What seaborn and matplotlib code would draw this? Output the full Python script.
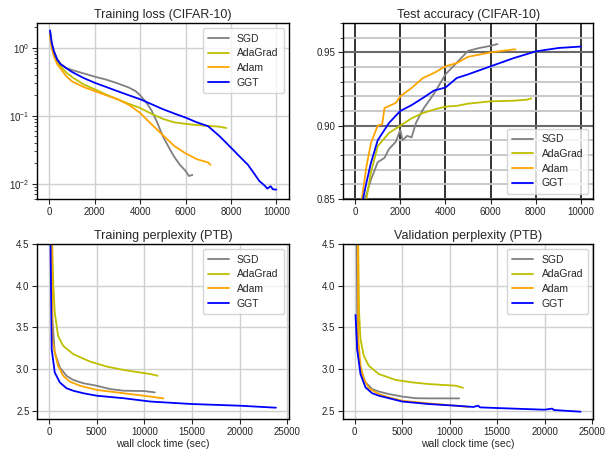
import numpy as np
import pandas as pd
import matplotlib
matplotlib.use("Agg")
import matplotlib.pyplot as plt
import seaborn as sns
from matplotlib.ticker import MultipleLocator, FormatStrFormatter

# ---- data ----
optimizers = ["SGD", "AdaGrad", "Adam", "GGT"]
colors = {"SGD": "gray", "AdaGrad": "#bfbf00", "Adam": "orange", "GGT": "blue"}

# Training loss (CIFAR-10)
loss_sgd_x = [30, 100, 200, 350, 500, 750, 1000, 1500, 2000, 2500, 3000, 3500, 3800, 4000, 4250,
              4500, 4750, 5000, 5250, 5500, 5750, 6000, 6150, 6300]
loss_sgd_y = [1.75, 1.2, 0.9, 0.68, 0.58, 0.5, 0.47, 0.42, 0.375, 0.34, 0.30, 0.26, 0.23, 0.2, 0.16,
              0.12, 0.08, 0.05, 0.035, 0.025, 0.019, 0.0155, 0.013, 0.0135]
loss_ada_x = [30, 100, 200, 350, 500, 750, 1000, 1500, 2000, 2500, 3000, 3500, 4000, 4500, 5000,
              5500, 6000, 6500, 7000, 7500, 7800]
loss_ada_y = [1.6, 1.1, 0.82, 0.62, 0.53, 0.43, 0.37, 0.29, 0.245, 0.205, 0.175, 0.15, 0.13, 0.107, 0.09,
              0.08, 0.076, 0.073, 0.071, 0.069, 0.066]
loss_adam_x = [30, 100, 200, 350, 500, 750, 1000, 1500, 2000, 2500, 3000, 3500, 4000, 4500, 5000,
               5500, 6000, 6500, 7000, 7100]
loss_adam_y = [1.5, 1.0, 0.75, 0.57, 0.49, 0.38, 0.32, 0.265, 0.23, 0.2, 0.175, 0.145, 0.11, 0.075, 0.052,
               0.036, 0.028, 0.023, 0.0205, 0.019]
loss_ggt_x = [30, 100, 200, 350, 500, 750, 1000, 1500, 2000, 2500, 3000, 3500, 4000, 4500, 5000, 5500,
              6000, 6500, 7000, 7500, 8000, 8500, 8750, 9000, 9250, 9500, 9600, 9750, 9850, 10000]
loss_ggt_y = [1.8, 1.2, 0.88, 0.66, 0.57, 0.5, 0.44, 0.36, 0.305, 0.265, 0.23, 0.2, 0.175, 0.148, 0.125, 0.108,
              0.094, 0.08, 0.07, 0.05, 0.034, 0.023, 0.019, 0.0145, 0.011, 0.0093, 0.0085, 0.0092, 0.0083, 0.0082]

# Test accuracy (CIFAR-10)
acc_sgd_x = [440, 700, 1000, 1300, 1500, 1800, 2000, 2100, 2300, 2500, 2700, 3000, 3500, 4000, 4500,
             5000, 5500, 6000, 6300]
acc_sgd_y = [0.85, 0.863, 0.875, 0.878, 0.884, 0.889, 0.897, 0.890, 0.893, 0.892, 0.902, 0.911, 0.922,
             0.935, 0.943, 0.951, 0.953, 0.9545, 0.9557]
acc_ada_x = [500, 700, 1000, 1500, 2000, 2500, 3000, 3500, 4000, 4500, 5000, 6000, 7000, 7600, 7800]
acc_ada_y = [0.85, 0.868, 0.886, 0.895, 0.900, 0.905, 0.9086, 0.911, 0.913, 0.9135, 0.915, 0.9166, 0.917,
             0.9177, 0.9186]
acc_adam_x = [300, 500, 700, 1000, 1200, 1300, 1800, 2000, 2500, 3000, 3500, 4000, 4500, 5000, 6000,
              7000, 7100]
acc_adam_y = [0.85, 0.872, 0.888, 0.900, 0.901, 0.912, 0.9155, 0.920, 0.9257, 0.9325, 0.936, 0.9405,
              0.9427, 0.947, 0.950, 0.952, 0.952]
acc_ggt_x = [350, 500, 700, 1000, 1500, 2000, 2500, 3000, 3500, 4000, 4500, 5000, 6000, 7000, 8000,
             9000, 10000]
acc_ggt_y = [0.85, 0.861, 0.8745, 0.890, 0.9018, 0.910, 0.914, 0.9189, 0.924, 0.926, 0.9325, 0.935,
             0.9405, 0.946, 0.9507, 0.953, 0.954]

# Training perplexity (PTB)
tp_sgd_x = [250, 350, 600, 1130, 1830, 2535, 3590, 5000, 6400, 7800, 10000, 11100]
tp_sgd_y = [4.6, 3.6, 3.2, 3.02, 2.92, 2.87, 2.83, 2.80, 2.76, 2.74, 2.736, 2.72]
tp_ada_x = [320, 450, 600, 950, 1480, 2535, 4300, 6060, 7800, 10630, 11400]
tp_ada_y = [4.6, 4.0, 3.68, 3.4, 3.28, 3.18, 3.09, 3.03, 2.99, 2.94, 2.92]
tp_adam_x = [300, 350, 600, 950, 1480, 2180, 3240, 5000, 7800, 10630, 12000]
tp_adam_y = [4.6, 3.36, 3.2, 3.04, 2.92, 2.85, 2.80, 2.75, 2.71, 2.67, 2.648]
tp_ggt_x = [150, 280, 600, 1130, 1830, 2535, 3590, 5000, 7800, 10630, 15000, 20000, 23800]
tp_ggt_y = [4.6, 3.24, 2.96, 2.84, 2.77, 2.74, 2.71, 2.68, 2.65, 2.61, 2.58, 2.56, 2.536]

# Validation perplexity (PTB)
vp_sgd_x = [200, 280, 600, 1130, 1830, 2535, 3590, 5000, 6400, 7800, 11000]
vp_sgd_y = [4.6, 3.24, 3.0, 2.84, 2.76, 2.73, 2.70, 2.67, 2.65, 2.648, 2.648]
vp_ada_x = [350, 450, 600, 950, 1480, 2535, 4300, 6060, 7800, 10630, 11400]
vp_ada_y = [4.6, 3.7, 3.36, 3.16, 3.04, 2.94, 2.87, 2.84, 2.82, 2.8, 2.775]
vp_adam_x = [320, 370, 600, 950, 1480, 2535, 3590, 5000, 7800, 10630, 12000]
vp_adam_y = [4.6, 3.36, 3.04, 2.88, 2.77, 2.70, 2.66, 2.62, 2.588, 2.56, 2.545]
vp_ggt_x = [80, 250, 600, 1130, 1830, 2535, 3590, 5000, 7800, 10630, 12500, 13000, 13200, 15000,
            20000, 20800, 21000, 23800]
vp_ggt_y = [3.65, 3.24, 2.94, 2.78, 2.71, 2.68, 2.65, 2.61, 2.58, 2.56, 2.545, 2.56, 2.54, 2.532,
            2.512, 2.525, 2.508, 2.488]


def frame(xs, ys):
    parts = []
    for name, x, y in zip(optimizers, xs, ys):
        parts.append(pd.DataFrame({"x": x, "y": y, "opt": name}))
    return pd.concat(parts, ignore_index=True)


sns.set_style("ticks")
plt.rcParams["font.family"] = ["Liberation Sans", "DejaVu Sans"]
plt.rcParams["mathtext.default"] = "regular"
plt.rcParams["axes.linewidth"] = 1.0

fig = plt.figure(figsize=(6.08, 4.53), dpi=100)
ax_loss = fig.add_axes([0.061, 0.561, 0.414, 0.388])
ax_acc = fig.add_axes([0.564, 0.561, 0.412, 0.388])
ax_tp = fig.add_axes([0.061, 0.075, 0.414, 0.386])
ax_vp = fig.add_axes([0.564, 0.075, 0.412, 0.386])

panels = [
    (ax_loss, frame([loss_sgd_x, loss_ada_x, loss_adam_x, loss_ggt_x],
                    [loss_sgd_y, loss_ada_y, loss_adam_y, loss_ggt_y]), "Training loss (CIFAR-10)"),
    (ax_acc, frame([acc_sgd_x, acc_ada_x, acc_adam_x, acc_ggt_x],
                   [acc_sgd_y, acc_ada_y, acc_adam_y, acc_ggt_y]), "Test accuracy (CIFAR-10)"),
    (ax_tp, frame([tp_sgd_x, tp_ada_x, tp_adam_x, tp_ggt_x],
                  [tp_sgd_y, tp_ada_y, tp_adam_y, tp_ggt_y]), "Training perplexity (PTB)"),
    (ax_vp, frame([vp_sgd_x, vp_ada_x, vp_adam_x, vp_ggt_x],
                  [vp_sgd_y, vp_ada_y, vp_adam_y, vp_ggt_y]), "Validation perplexity (PTB)"),
]

for ax, df, title in panels:
    sns.lineplot(data=df, x="x", y="y", hue="opt", palette=colors, hue_order=optimizers,
                 lw=1.3, ax=ax, estimator=None, sort=False)
    ax.set_title(title, fontsize=9, pad=4)
    ax.set_xlabel("")
    ax.set_ylabel("")
    ax.tick_params(labelsize=7, length=3.5, width=0.8, pad=2)
    for s in ax.spines.values():
        s.set_color("black")
        s.set_visible(True)

# training loss
ax_loss.set_yscale("log")
ax_loss.set_xlim(-540, 10550)
ax_loss.set_ylim(0.006, 2.3)
ax_loss.set_xticks([0, 2000, 4000, 6000, 8000, 10000])
ax_loss.grid(True, which="major", color="#d0d0d0", lw=1.0)
ax_loss.set_axisbelow(True)

# test accuracy
ax_acc.set_xlim(-540, 10550)
ax_acc.set_ylim(0.85, 0.97)
ax_acc.set_xticks([0, 2000, 4000, 6000, 8000, 10000])
ax_acc.yaxis.set_major_locator(MultipleLocator(0.05))
ax_acc.yaxis.set_minor_locator(MultipleLocator(0.01))
ax_acc.yaxis.set_major_formatter(FormatStrFormatter("%.2f"))
ax_acc.tick_params(axis="y", which="minor", length=2, width=0.6)
ax_acc.grid(True, axis="y", which="minor", color="#c4c4c4", lw=1.3)
ax_acc.grid(True, axis="y", which="major", color="#6a6a6a", lw=1.5)
ax_acc.grid(True, axis="x", which="major", color="#111111", lw=1.2)
ax_acc.set_axisbelow(True)

# perplexity panels
for ax in (ax_tp, ax_vp):
    ax.set_xlim(-1250, 25150)
    ax.set_ylim(2.4, 4.5)
    ax.set_xticks([0, 5000, 10000, 15000, 20000, 25000])
    ax.set_yticks([2.5, 3.0, 3.5, 4.0, 4.5])
    ax.grid(True, which="major", color="#d0d0d0", lw=1.0)
    ax.set_axisbelow(True)
    ax.set_xlabel("wall clock time (sec)", fontsize=7.5, labelpad=2)

for ax, loc in [(ax_loss, "upper right"), (ax_acc, "lower right"),
                (ax_tp, "upper right"), (ax_vp, "upper right")]:
    ax.legend(loc=loc, fontsize=7.5, title=None, handlelength=2.0, borderpad=0.5, labelspacing=0.45)

fig.savefig("out.png", dpi=100)
